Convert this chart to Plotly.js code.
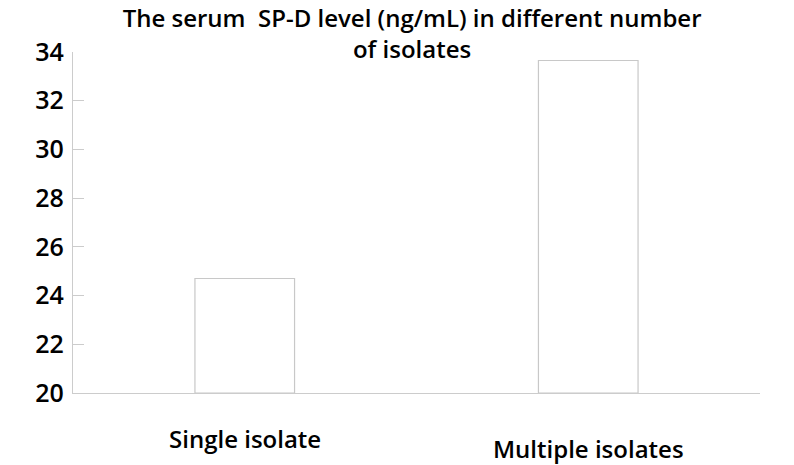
<!DOCTYPE html>
<html>
<head>
<meta charset="utf-8">
<script src="https://cdn.plot.ly/plotly-3.0.1.min.js"></script>
<style>html,body{margin:0;padding:0;background:#fff;}#chart{width:794px;height:465px;}</style>
</head>
<body>
<div id="chart"></div>
<script>
const categories = ["Single isolate", "Multiple isolates"];
const spdLevels = [24.7, 33.65];
const yTicks = [20, 22, 24, 26, 28, 30, 32, 34];
const titleText = "The serum  SP-D level (ng/mL) in different number<br>of isolates";

const FONT = "Open Sans, Noto Sans, sans-serif";
const labelOffsets = [45, 55];

const trace = {
  type: "bar",
  x: categories,
  y: spdLevels.map(v => v - 20),
  base: 20,
  marker: {color: "#ffffff", line: {color: "#c8c8c8", width: 1.2}},
  width: 0.29,
  hoverinfo: "skip"
};

const layout = {
  width: 794, height: 465,
  margin: {l: 73, r: 34, t: 52, b: 72},
  paper_bgcolor: "#ffffff", plot_bgcolor: "#ffffff",
  showlegend: false,
  title: {
    text: titleText,
    font: {family: FONT, size: 24, color: "#000", weight: 600},
    x: 0.519, xanchor: "center",
    y: 0.942, yanchor: "top", yref: "container"
  },
  xaxis: {
    type: "category",
    range: [-0.5, 1.5],
    showline: true, linecolor: "#cccccc", linewidth: 1.2,
    ticks: "", showticklabels: false, showgrid: false, zeroline: false
  },
  yaxis: {
    range: [20, 34],
    tickvals: yTicks,
    ticktext: yTicks.map(String),
    showline: true, linecolor: "#cccccc", linewidth: 1.2,
    ticks: "inside", ticklen: 11, tickcolor: "#cccccc", tickwidth: 1,
    showgrid: false, zeroline: false,
    tickfont: {family: FONT, size: 25, color: "#000", weight: 600},
    ticklabelstandoff: 3
  },
  annotations: categories.map((c, i) => ({
    x: c, xref: "x", y: 0, yref: "paper",
    yshift: -labelOffsets[i], yanchor: "middle", xanchor: "center",
    text: c, showarrow: false,
    font: {family: FONT, size: 24, color: "#000", weight: 600}
  }))
};

Plotly.newPlot("chart", [trace], layout, {displayModeBar: false, staticPlot: true});
</script>
</body>
</html>
